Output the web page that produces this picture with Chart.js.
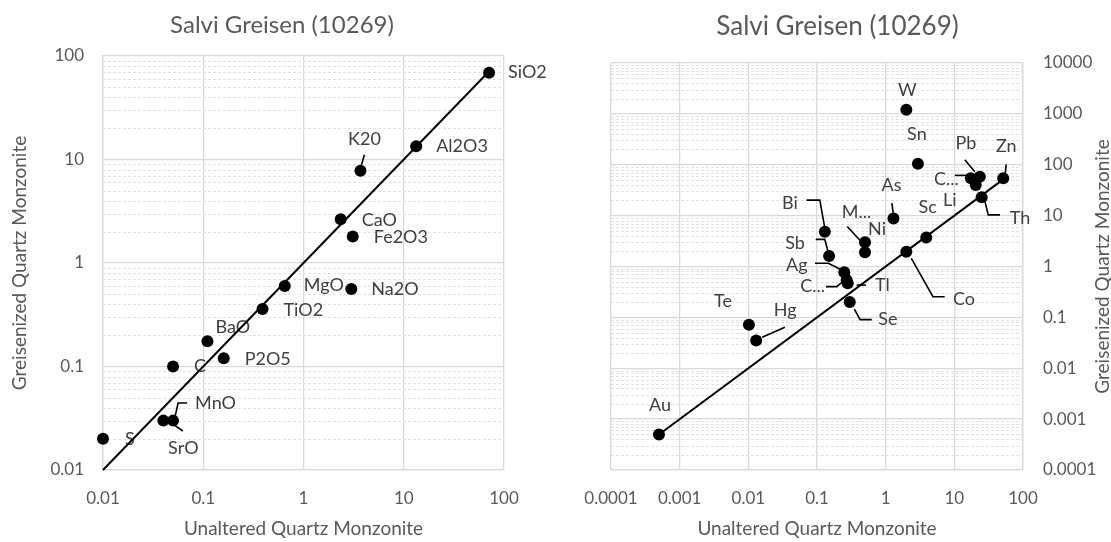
<!DOCTYPE html>
<html>
<head>
<meta charset="utf-8">
<script src="https://cdn.jsdelivr.net/npm/chart.js@4/dist/chart.umd.min.js"></script>
<style>
  html, body { margin: 0; padding: 0; background: #fff; }
  #wrap { position: relative; width: 1111px; height: 542px; overflow: hidden; }
  #oxides { position: absolute; left: 0; top: 0; }
  #traces { position: absolute; left: 564px; top: 0; }
</style>
</head>
<body>
<div id="wrap">
  <canvas id="oxides" width="564" height="542"></canvas>
  <canvas id="traces" width="547" height="542"></canvas>
</div>
<script>
// ---------- text ----------
const chartTitle = 'Salvi Greisen (10269)';
const xAxisTitle = 'Unaltered Quartz Monzonite';
const yAxisTitle = 'Greisenized Quartz Monzonite';

// ---------- major oxides ----------
const oxideNames      = ['SiO2', 'Al2O3', 'K20', 'CaO', 'Fe2O3', 'MgO', 'Na2O', 'TiO2', 'BaO', 'P2O5', 'C', 'MnO', 'SrO', 'S'];
const oxideUnaltered  = [71, 13.3, 3.7, 2.35, 3.1, 0.65, 3.0, 0.39, 0.11, 0.16, 0.05, 0.05, 0.04, 0.01];
const oxideGreisen    = [69, 13.4, 7.8, 2.65, 1.8, 0.6, 0.56, 0.36, 0.175, 0.12, 0.1, 0.03, 0.03, 0.02];
const oxideOneToOne   = [0.01, 70];
const oxideAxisTicks  = ['0.01', '0.1', '1', '10', '100'];

// ---------- trace elements ----------
const traceNames      = ['W', 'Sn', 'Pb', 'Zn', 'C...', 'Li', 'Th', 'Sc', 'As', 'M...', 'Ni', 'Bi', 'Sb', 'Ag', 'Tl', 'C...', 'Co', 'Se', 'Te', 'Hg', 'Au'];
const traceUnaltered  = [2.0, 2.95, 23.5, 51.5, 17.4, 20.5, 25, 3.9, 1.3, 0.5, 0.5, 0.13, 0.15, 0.25, 0.27, 0.28, 2.0, 0.3, 0.0102, 0.013, 0.0005];
const traceGreisen    = [1200, 105, 58, 54, 54, 40, 23, 3.7, 8.8, 3.0, 1.9, 4.8, 1.6, 0.77, 0.54, 0.47, 1.95, 0.2, 0.072, 0.035, 0.0005];
const traceOneToOne   = [0.0005, 51.5];
const traceXTicks     = ['0.0001', '0.001', '0.01', '0.1', '1', '10', '100'];
const traceYTicks     = ['0.0001', '0.001', '0.01', '0.1', '1', '10', '100', '1000', '10000'];

// ---------- label placement (px offsets from each marker; optional leader path) ----------
const oxideLabelPos = [
  [19, 0, 'left'],
  [20, 0, 'left'],
  [4, -31, 'center', [[4, -16], [1, -6]]],
  [21, 1, 'left'],
  [21, 1, 'left'],
  [19, -1, 'left'],
  [20, 0, 'left'],
  [21, 1, 'left'],
  [8, -14, 'left'],
  [21, 1, 'left'],
  [21, 0, 'left'],
  [22, -17, 'left', [[2, -4], [5, -17.6], [14, -17.6]]],
  [20, 28, 'center', [[9, 3], [19.4, 10.4]]],
  [22, 0, 'left']
];
const traceLabelPos = [
  [1, -20, 'center'],
  [-1, -29, 'center'],
  [-14, -34, 'center', [[-15, -17], [-5, -5]]],
  [3, -32, 'center', [[3, -14], [2, -5]]],
  [-12, 1, 'right', [[-16, -3], [-3, -3]]],
  [-26, 15, 'center'],
  [28, 21, 'left', [[3.3, 4.4], [6.6, 17.7], [18.3, 17.7]]],
  [1.5, -30, 'center'],
  [-2, -33, 'center', [[-1.6, -15.3], [-0.3, -5.3]]],
  [-8.5, -30, 'center', [[-17.7, -15.7], [-3.3, 0]]],
  [12, -22.7, 'center'],
  [-35, -29, 'center', [[-18.3, -31.7], [-5, -31.7], [0, -3.7]]],
  [-34, -13, 'center', [[-13.3, -16.7], [-4.3, -16.7], [-1, -4.3]]],
  [-47.6, -7.3, 'center', [[-29.3, -9], [-16, -9], [-2.6, -2.3]]],
  [28.3, 5, 'left', [[10, 5], [19.3, 5]]],
  [-35, 3.4, 'center', [[-21.7, 3.4], [-11, 3.4], [-5, -1.6]]],
  [46.6, 47.6, 'left', [[5, 6.6], [26.6, 45], [38.3, 45]]],
  [28.6, 17.6, 'left', [[4.6, 7], [10.3, 17.6], [22, 17.6]]],
  [-26, -23, 'center'],
  [29, -30, 'center', [[6, -3.4], [28.7, -13.3]]],
  [1, -29.5, 'center']
];

// ---------- styling ----------
const FONT = 'Lato, "Open Sans", sans-serif';
const TEXT_GREY = '#595959';
const LABEL_INK = '#404040';
const GRID = '#d9d9d9';
const MINOR_GRID = '#e2e2e2';
Chart.defaults.font.family = FONT;
Chart.defaults.color = TEXT_GREY;

function decades(lo, hi) {
  const out = [];
  for (let e = Math.round(Math.log10(lo)); e <= Math.round(Math.log10(hi)); e++) out.push(Math.pow(10, e));
  return out;
}

// dashed minor lines at 2..9 within every decade of the value axis
const minorGrid = {
  id: 'minorGrid',
  beforeDatasetsDraw(chart) {
    const s = chart.scales.y, a = chart.chartArea, ctx = chart.ctx;
    ctx.save();
    ctx.strokeStyle = MINOR_GRID;
    ctx.lineWidth = 1;
    ctx.setLineDash([3, 2]);
    const e0 = Math.round(Math.log10(s.min)), e1 = Math.round(Math.log10(s.max));
    for (let e = e0; e < e1; e++) {
      for (let k = 2; k <= 9; k++) {
        const py = Math.round(s.getPixelForValue(k * Math.pow(10, e))) + 0.5;
        ctx.beginPath();
        ctx.moveTo(a.left, py);
        ctx.lineTo(a.right, py);
        ctx.stroke();
      }
    }
    ctx.restore();
  }
};

function headingPlugin(text, size, y) {
  return {
    id: 'heading',
    afterDraw(chart) {
      const ctx = chart.ctx;
      ctx.save();
      ctx.font = size + 'px ' + FONT;
      ctx.fillStyle = TEXT_GREY;
      ctx.textAlign = 'center';
      ctx.textBaseline = 'middle';
      ctx.fillText(text, chart.width / 2, y);
      ctx.restore();
    }
  };
}

// right-hand value axis title, reading bottom to top
function rightAxisTitlePlugin(text, size, inset) {
  return {
    id: 'rightAxisTitle',
    afterDraw(chart) {
      const ctx = chart.ctx, a = chart.chartArea;
      ctx.save();
      ctx.font = size + 'px ' + FONT;
      ctx.fillStyle = TEXT_GREY;
      ctx.textAlign = 'center';
      ctx.textBaseline = 'middle';
      ctx.translate(chart.width - inset, (a.top + a.bottom) / 2);
      ctx.rotate(-Math.PI / 2);
      ctx.fillText(text, 0, 0);
      ctx.restore();
    }
  };
}

// element names beside the markers, drawn before the 1:1 line
function labelPlugin(names, placement) {
  return {
    id: 'pointNames',
    afterDatasetDraw(chart, args) {
      if (args.index !== 0) return;
      const ctx = chart.ctx;
      ctx.save();
      ctx.font = '18px ' + FONT;
      ctx.fillStyle = LABEL_INK;
      ctx.strokeStyle = '#000';
      ctx.lineWidth = 1.6;
      ctx.textBaseline = 'middle';
      args.meta.data.forEach((pt, i) => {
        const p = placement[i];
        if (!p) return;
        const [dx, dy, align, leader] = p;
        if (leader) {
          ctx.beginPath();
          leader.forEach(([lx, ly], j) => {
            if (j === 0) ctx.moveTo(pt.x + lx, pt.y + ly);
            else ctx.lineTo(pt.x + lx, pt.y + ly);
          });
          ctx.stroke();
        }
        ctx.textAlign = align;
        ctx.fillText(names[i], pt.x + dx, pt.y + dy);
      });
      ctx.restore();
    }
  };
}

function logAxis(min, max, labels, extra) {
  const values = decades(min, max);
  return Object.assign({
    type: 'logarithmic',
    min: min,
    max: max,
    afterBuildTicks: (scale) => { scale.ticks = values.map(v => ({ value: v })); },
    ticks: {
      autoSkip: false,
      maxRotation: 0,
      font: { size: 17 },
      color: TEXT_GREY,
      callback: (v, i) => labels[i]
    },
    grid: { color: GRID, lineWidth: 1.3, drawTicks: false },
    border: { color: GRID, width: 1.3 }
  }, extra);
}

function buildChart(canvasId, cfg) {
  return new Chart(document.getElementById(canvasId), {
    type: 'scatter',
    data: {
      datasets: [
        {
          data: cfg.x.map((v, i) => ({ x: v, y: cfg.y[i] })),
          pointRadius: 6,
          pointBackgroundColor: '#000',
          pointBorderColor: '#000',
          pointBorderWidth: 0,
          showLine: false,
          clip: false,
          order: 2
        },
        {
          data: cfg.oneToOne.map(v => ({ x: v, y: v })),
          showLine: true,
          borderColor: '#000',
          borderWidth: 2,
          pointRadius: 0,
          clip: false,
          order: 1
        }
      ]
    },
    options: {
      responsive: false,
      animation: false,
      layout: { padding: cfg.padding },
      plugins: { legend: { display: false }, tooltip: { enabled: false }, title: { display: false } },
      scales: {
        x: logAxis(cfg.xMin, cfg.xMax, cfg.xTicks, {
          position: 'bottom',
          ticks: { autoSkip: false, maxRotation: 0, font: { size: 17 }, color: TEXT_GREY, padding: 18,
                   callback: (v, i) => cfg.xTicks[i] },
          title: { display: true, text: xAxisTitle, font: { size: 19 }, color: TEXT_GREY, padding: { top: 0, bottom: 2 } },
          afterFit: (s) => { s.height = 72; }
        }),
        y: logAxis(cfg.yMin, cfg.yMax, cfg.yTicks, {
          position: cfg.yPosition,
          ticks: { autoSkip: false, font: { size: 17 }, color: TEXT_GREY, padding: cfg.yTickPad,
                   callback: (v, i) => cfg.yTicks[i] },
          title: cfg.yTitle,
          afterFit: (s) => { s.width = cfg.yWidth; }
        })
      }
    },
    plugins: cfg.plugins
  });
}

buildChart('oxides', {
  x: oxideUnaltered, y: oxideGreisen, oneToOne: oxideOneToOne,
  xMin: 0.01, xMax: 100, yMin: 0.01, yMax: 100,
  xTicks: oxideAxisTicks, yTicks: oxideAxisTicks,
  yPosition: 'left', yWidth: 103, yTickPad: 19,
  yTitle: { display: true, text: yAxisTitle, font: { size: 19 }, color: TEXT_GREY, padding: { top: 8, bottom: 0 } },
  padding: { top: 56, right: 60, left: 0, bottom: 0 },
  plugins: [minorGrid, labelPlugin(oxideNames, oxideLabelPos), headingPlugin(chartTitle, 24, 25)]
});

buildChart('traces', {
  x: traceUnaltered, y: traceGreisen, oneToOne: traceOneToOne,
  xMin: 0.0001, xMax: 100, yMin: 0.0001, yMax: 10000,
  xTicks: traceXTicks, yTicks: traceYTicks,
  yPosition: 'right', yWidth: 88, yTickPad: 20,
  yTitle: { display: false },
  padding: { top: 63, right: 0, left: 47, bottom: 0 },
  plugins: [minorGrid, labelPlugin(traceNames, traceLabelPos), headingPlugin(chartTitle, 26, 27),
            rightAxisTitlePlugin(yAxisTitle, 19, 8)]
});
</script>
</body>
</html>
